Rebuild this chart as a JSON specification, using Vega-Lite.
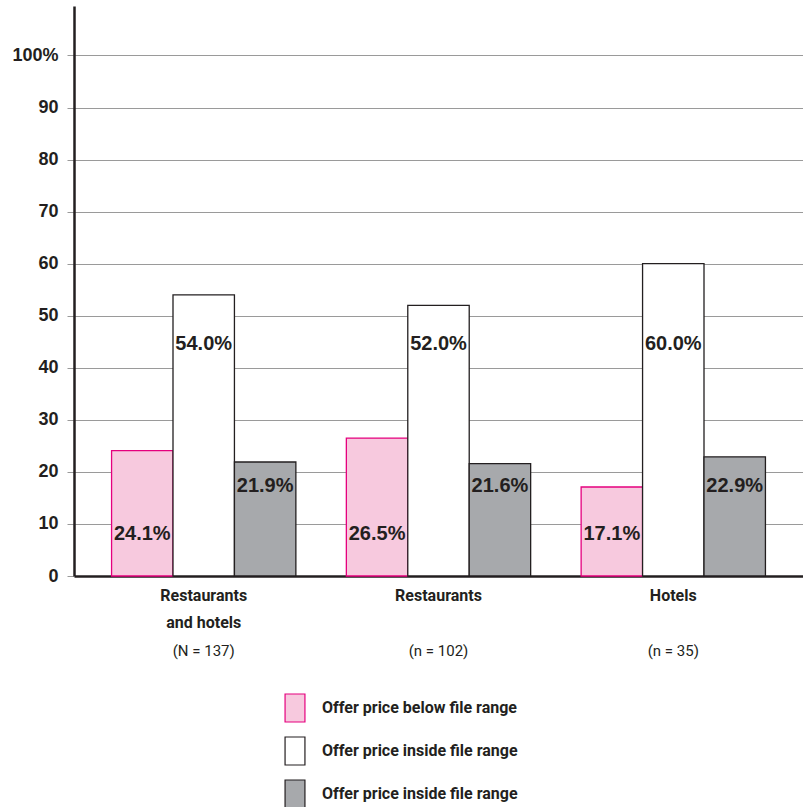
{
  "$schema": "https://vega.github.io/schema/vega-lite/v6.json",
  "autosize": {"type": "none"},
  "padding": {"left": 74, "top": 6, "right": 0, "bottom": 231},
  "width": 729,
  "height": 570,
  "background": "white",
  "config": {"view": {"stroke": null}, "font": "Liberation Sans"},
  "data": {
    "values": [
      {"group": "Restaurants and hotels", "series": "below", "value": 24.1},
      {"group": "Restaurants and hotels", "series": "inside", "value": 54.0},
      {"group": "Restaurants and hotels", "series": "above", "value": 21.9},
      {"group": "Restaurants", "series": "below", "value": 26.5},
      {"group": "Restaurants", "series": "inside", "value": 52.0},
      {"group": "Restaurants", "series": "above", "value": 21.6},
      {"group": "Hotels", "series": "below", "value": 17.1},
      {"group": "Hotels", "series": "inside", "value": 60.0},
      {"group": "Hotels", "series": "above", "value": 22.9}
    ]
  },
  "transform": [{"calculate": "format(datum.value, '.1f') + '%'", "as": "label"}],
  "layer": [
    {
      "mark": {"type": "bar", "strokeWidth": 1.3},
      "encoding": {
        "x": {
          "field": "group", "type": "nominal",
          "sort": ["Restaurants and hotels", "Restaurants", "Hotels"],
          "scale": {"paddingInner": 0.215, "paddingOuter": 0.16},
          "axis": {
            "orient": "bottom", "title": null, "ticks": false, "grid": false,
            "domain": true, "domainColor": "#231f20", "domainWidth": 2.5,
            "labelAngle": 0, "labelFont": "Roboto", "labelFontSize": 16,
            "labelFontWeight": "bold", "labelColor": "#231f20", "labelPadding": 11.5,
            "labelLineHeight": 27, "labelBaseline": "top",
            "labelExpr": "datum.value == 'Restaurants and hotels' ? ['Restaurants', 'and hotels'] : datum.value"
          }
        },
        "xOffset": {
          "field": "series", "type": "nominal", "sort": ["below", "inside", "above"],
          "scale": {"paddingInner": 0, "paddingOuter": 0}
        },
        "y": {
          "field": "value", "type": "quantitative",
          "scale": {"domain": [0, 109.5], "nice": false},
          "axis": {
            "title": null, "values": [0, 10, 20, 30, 40, 50, 60, 70, 80, 90, 100],
            "grid": true, "gridColor": "#9a9a9a", "gridWidth": 1,
            "tickSize": 7, "tickColor": "#9a9a9a", "tickWidth": 1,
            "domainColor": "#231f20", "domainWidth": 2.5,
            "labelFont": "Liberation Sans", "labelFontSize": 18, "labelFontWeight": "bold",
            "labelColor": "#231f20", "labelPadding": 9,
            "labelExpr": "datum.value == 100 ? '100%' : datum.label"
          }
        },
        "fill": {
          "field": "series", "type": "nominal",
          "scale": {"domain": ["below", "inside", "above"], "range": ["#f7c9de", "#ffffff", "#a7a9ac"]},
          "legend": {
            "orient": "none", "legendX": 206, "legendY": 687, "title": null, "direction": "vertical",
            "symbolType": "M-0.71,-1H0.71V1H-0.71Z", "symbolSize": 784, "symbolStrokeWidth": 1.2,
            "symbolOpacity": 1, "labelLimit": 0,
            "labelFont": "Roboto", "labelFontSize": 16, "labelFontWeight": "bold",
            "labelColor": "#231f20", "labelOffset": 12, "rowPadding": 9, "padding": 0,
            "labelExpr": "datum.value == 'below' ? 'Offer price below file range' : 'Offer price inside file range'"
          }
        },
        "stroke": {
          "field": "series", "type": "nominal",
          "scale": {"domain": ["below", "inside", "above"], "range": ["#e5007e", "#231f20", "#231f20"]},
          "legend": {
            "orient": "none", "legendX": 206, "legendY": 687, "title": null, "direction": "vertical",
            "symbolType": "M-0.71,-1H0.71V1H-0.71Z", "symbolSize": 784, "symbolStrokeWidth": 1.2,
            "symbolOpacity": 1, "labelLimit": 0,
            "labelFont": "Roboto", "labelFontSize": 16, "labelFontWeight": "bold",
            "labelColor": "#231f20", "labelOffset": 12, "rowPadding": 9, "padding": 0,
            "labelExpr": "datum.value == 'below' ? 'Offer price below file range' : 'Offer price inside file range'"
          }
        }
      }
    },
    {
      "transform": [{"filter": "datum.series == 'below'"}],
      "mark": {"type": "text", "font": "Liberation Sans", "fontSize": 20, "fontWeight": "bold", "fill": "#231f20", "baseline": "middle"},
      "encoding": {
        "x": {
          "field": "group", "type": "nominal",
          "sort": ["Restaurants and hotels", "Restaurants", "Hotels"],
          "axis": {
            "orient": "bottom", "title": null, "ticks": false, "grid": false, "domain": false,
            "labelAngle": 0, "labelFont": "Roboto", "labelFontSize": 15,
            "labelFontWeight": "normal", "labelColor": "#231f20", "labelPadding": 67,
            "labelBaseline": "top",
            "labelExpr": "datum.value == 'Restaurants and hotels' ? '(N = 137)' : datum.value == 'Restaurants' ? '(n = 102)' : '(n = 35)'"
          }
        },
        "xOffset": {"field": "series", "type": "nominal", "sort": ["below", "inside", "above"]},
        "y": {"datum": 8.1, "type": "quantitative"},
        "text": {"field": "label"}
      }
    },
    {
      "transform": [{"filter": "datum.series == 'inside'"}],
      "mark": {"type": "text", "font": "Liberation Sans", "fontSize": 20, "fontWeight": "bold", "fill": "#231f20", "baseline": "middle"},
      "encoding": {
        "x": {"field": "group", "type": "nominal", "sort": ["Restaurants and hotels", "Restaurants", "Hotels"], "axis": null},
        "xOffset": {"field": "series", "type": "nominal", "sort": ["below", "inside", "above"]},
        "y": {"datum": 44.5, "type": "quantitative"},
        "text": {"field": "label"}
      }
    },
    {
      "transform": [{"filter": "datum.series == 'above'"}],
      "mark": {"type": "text", "font": "Liberation Sans", "fontSize": 20, "fontWeight": "bold", "fill": "#231f20", "baseline": "middle"},
      "encoding": {
        "x": {"field": "group", "type": "nominal", "sort": ["Restaurants and hotels", "Restaurants", "Hotels"], "axis": null},
        "xOffset": {"field": "series", "type": "nominal", "sort": ["below", "inside", "above"]},
        "y": {"datum": 17.2, "type": "quantitative"},
        "text": {"field": "label"}
      }
    }
  ],
  "resolve": {"axis": {"x": "independent"}}
}
